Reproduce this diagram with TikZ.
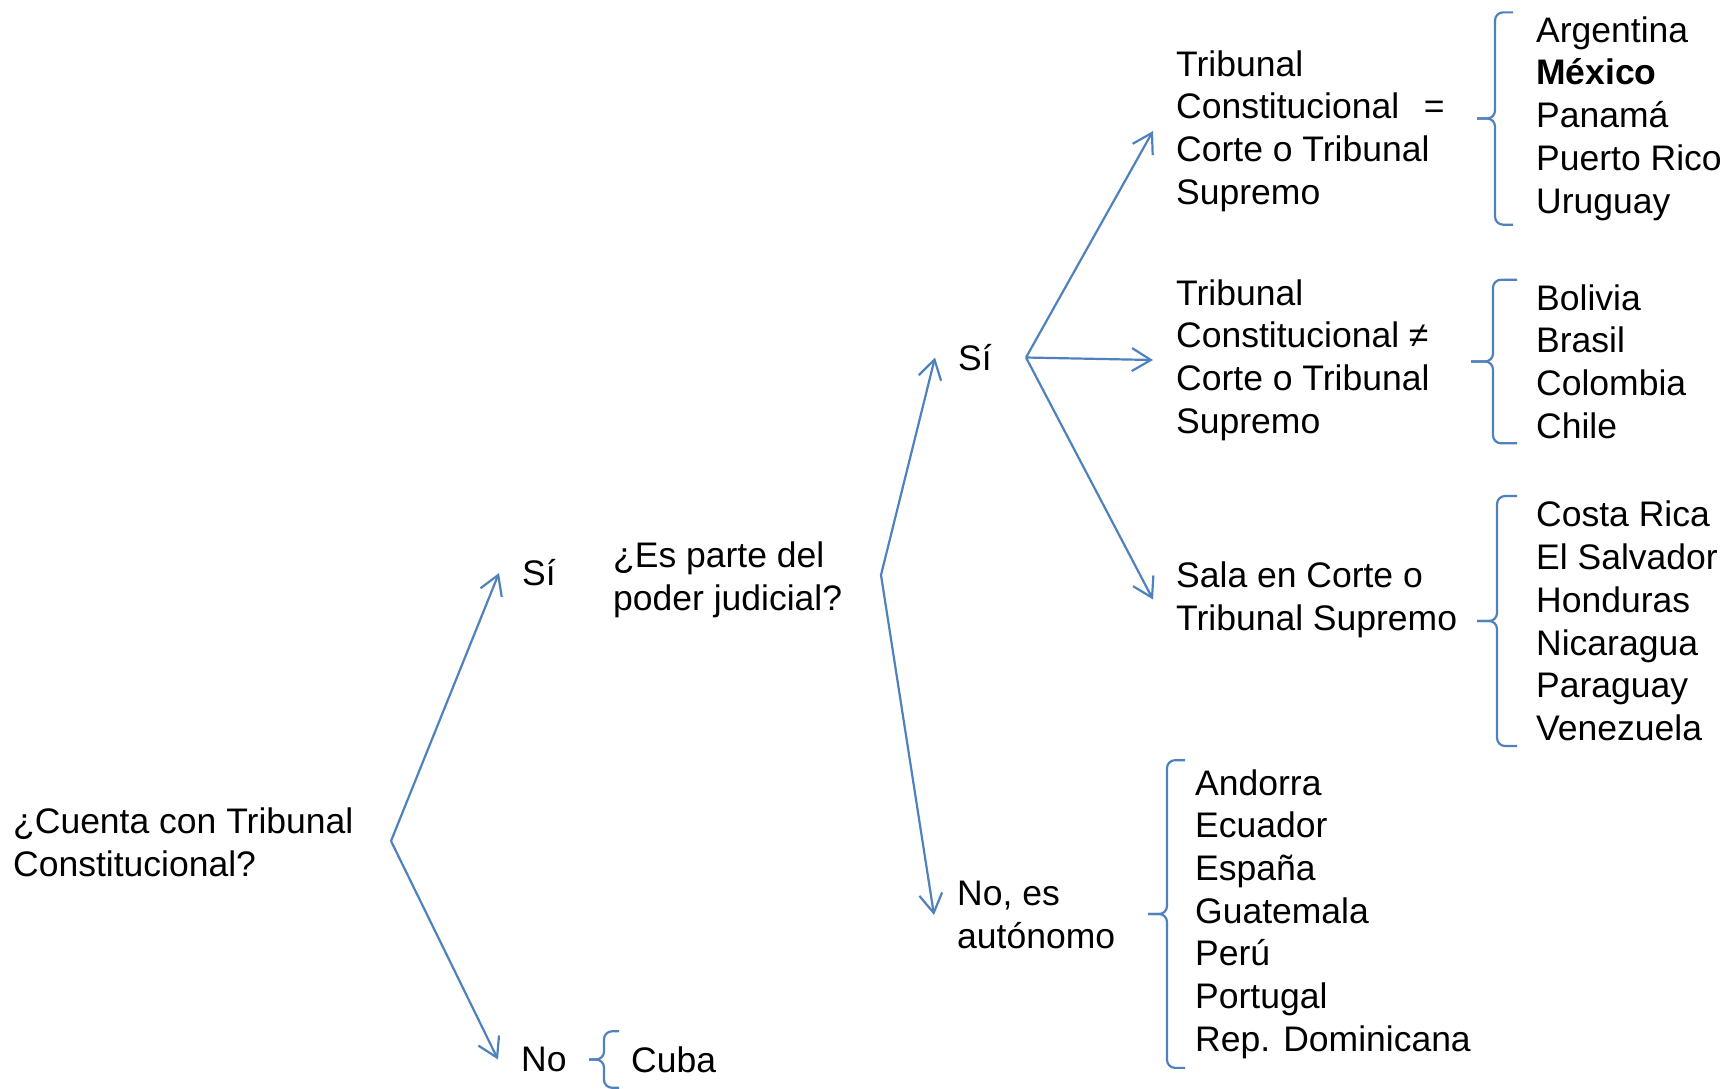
\documentclass[tikz,border=0pt]{standalone}
\usepackage{fontspec}
\setmainfont{Liberation Sans}
\usetikzlibrary{arrows.meta}
\definecolor{lineblue}{HTML}{4F81BD}
% #1 list node, #2 stem offset, #3 tip offset
\newcommand{\llave}[3]{%
  \draw [brc] (#1.north west) -- ++(-#2,0) |- ([xshift=-#3]#1.west);
  \draw [brc] (#1.south west) -- ++(-#2,0) |- ([xshift=-#3]#1.west);}

\begin{document}
\begin{tikzpicture}[x=1pt, y=-1pt,
  every node/.style={font=\fontsize{35.5}{42.7}\selectfont, align=left, inner ysep=0pt},
  lbl/.style={anchor=west, inner xsep=23pt},
  arr/.style={draw=lineblue, line width=2.2pt, -{Straight Barb[length=19pt,width=23pt]}},
  brc/.style={draw=lineblue, line width=2.2pt, rounded corners=8pt}]
\useasboundingbox (0,0) rectangle (1736,1088);

\node [anchor=west, inner xsep=0pt] (q0) at (13,842) {¿Cuenta con Tribunal\\Constitucional?};
\node [lbl] (si1) at (499,573) {Sí};
\node [lbl] (no1) at (498,1059.5) {No};
\node [anchor=west, inner xsep=0pt] (q1) at (613,579.5) {¿Es parte del\\poder judicial?};
\node [lbl] (si2) at (935,357.5) {Sí};
\node [lbl] (no2) at (934,915) {No, es\\autónomo};
\node [lbl] (tc1) at (1153,131) {Tribunal\\Constitucional\hspace{0.7em}=\\Corte o Tribunal\\Supremo};
\node [lbl] (tc2) at (1153,360) {Tribunal\\Constitucional ≠\\Corte o Tribunal\\Supremo};
\node [lbl] (tc3) at (1153,599.5) {Sala en Corte o\\Tribunal Supremo};

\node [anchor=west, inner xsep=23pt, inner ysep=4pt] (pais1) at (1513,118.5) {Argentina\\\textbf{México}\\Panamá\\Puerto Rico\\Uruguay};
\node [anchor=west, inner xsep=19pt, inner ysep=4.5pt] (pais2) at (1517,361.5) {Bolivia\\Brasil\\Colombia\\Chile};
\node [anchor=west, inner xsep=19pt, inner ysep=5pt] (pais3) at (1517,621) {Costa Rica\\El Salvador\\Honduras\\Nicaragua\\Paraguay\\Venezuela};
\node [anchor=west, inner xsep=10pt, inner ysep=9pt] (pais4) at (1185,914) {Andorra\\Ecuador\\España\\Guatemala\\Perú\\Portugal\\Rep. Dominicana};
\node [anchor=west, inner xsep=12pt, inner ysep=15pt] (pais5) at (619,1059.5) {Cuba};

\coordinate (v0) at (391,841);
\coordinate (v1) at (881,575);
\coordinate (v2) at (1026,357.5);

\draw [arr] (v0) -- (si1.west);
\draw [arr] (v0) -- (no1.west);
\draw [arr] (v1) -- (si2.west);
\draw [arr] (v1) -- (no2.west);
\draw [arr] (v2) -- (tc1.west);
\draw [arr] (v2) -- (tc2.west);
\draw [arr] (v2) -- (tc3.west);

\llave{pais1}{18}{36pt}
\llave{pais2}{24}{46pt}
\llave{pais3}{20}{40pt}
\llave{pais4}{18}{37pt}
\llave{pais5}{15}{30pt}
\end{tikzpicture}
\end{document}
